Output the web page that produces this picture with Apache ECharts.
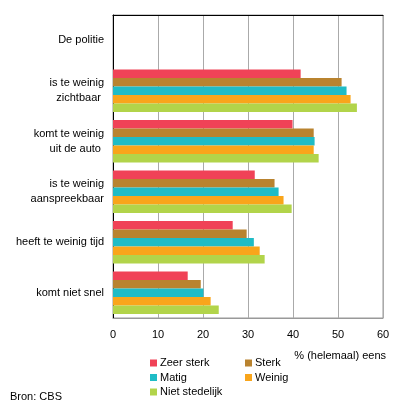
<!DOCTYPE html>
<html>
<head>
<meta charset="utf-8">
<script src="https://cdn.jsdelivr.net/npm/echarts@6/dist/echarts.min.js"></script>
<style>html,body{margin:0;padding:0;background:#fff}#c{width:396px;height:408px}</style>
</head>
<body>
<div id="c"></div>
<script>
const categories = ['De politie', 'is te weinig\nzichtbaar ', 'komt te weinig\nuit de auto ', 'is te weinig\naanspreekbaar', 'heeft te weinig tijd', 'komt niet snel'];
const seriesNames = ['Zeer sterk', 'Sterk', 'Matig', 'Weinig', 'Niet stedelijk'];
const zeerSterk = [null, 41.7, 39.9, 31.5, 26.6, 16.6];
const sterk = [null, 50.8, 44.6, 35.9, 29.7, 19.5];
const matig = [null, 51.9, 44.8, 36.8, 31.3, 20.1];
const weinig = [null, 52.8, 44.6, 37.9, 32.6, 21.7];
const nietStedelijk = [null, 54.2, 45.7, 39.7, 33.7, 23.5];
const xTicks = [0, 10, 20, 30, 40, 50, 60];
const axisTitle = '% (helemaal) eens';
const source = 'Bron: CBS';

const colors = ['#f04257', '#b9832f', '#1fbcc6', '#f9a51b', '#b2d44a'];
const values = [zeerSterk, sterk, matig, weinig, nietStedelijk];
const FONT = 'Arial, "Liberation Sans", sans-serif';

const chart = echarts.init(document.getElementById('c'), null, {renderer: 'canvas'});
chart.setOption({
  animation: false,
  textStyle: {fontFamily: FONT},
  grid: {left: 113, top: 15, width: 270, height: 303, show: true, borderColor: '#999', borderWidth: 1, backgroundColor: 'transparent'},
  title: [
    {text: axisTitle, right: 5, top: 345, textStyle: {fontSize: 11, fontWeight: 'normal', color: '#000', fontFamily: FONT}},
    {text: source, left: 5, top: 386, textStyle: {fontSize: 11, fontWeight: 'normal', color: '#000', fontFamily: FONT}}
  ],
  legend: [
    {data: [seriesNames[0], seriesNames[2], seriesNames[4]], orient: 'vertical', left: 145, top: 352, itemWidth: 7, itemHeight: 7, itemGap: 2.5, icon: 'rect',
     textStyle: {fontSize: 11, color: '#000', lineHeight: 12, padding: [0, 0, 0, -2], fontFamily: FONT}},
    {data: [seriesNames[1], seriesNames[3]], orient: 'vertical', left: 240, top: 352, itemWidth: 7, itemHeight: 7, itemGap: 2.5, icon: 'rect',
     textStyle: {fontSize: 11, color: '#000', lineHeight: 12, padding: [0, 0, 0, -2], fontFamily: FONT}}
  ],
  xAxis: [
    {type: 'value', min: xTicks[0], max: xTicks[xTicks.length - 1], interval: xTicks[1] - xTicks[0], position: 'bottom',
     axisLine: {show: true, lineStyle: {color: '#999', width: 1}}, axisTick: {show: false},
     axisLabel: {fontSize: 11, color: '#000', margin: 11, fontFamily: FONT},
     splitLine: {show: true, lineStyle: {color: '#aaa', width: 1}}},
    {type: 'value', min: xTicks[0], max: xTicks[xTicks.length - 1], position: 'top',
     axisLine: {show: true, lineStyle: {color: '#000', width: 1}}, axisTick: {show: false}, axisLabel: {show: false}, splitLine: {show: false}}
  ],
  yAxis: {type: 'category', data: categories, inverse: true,
    axisLine: {show: true, lineStyle: {color: '#000', width: 1}}, axisTick: {show: false},
    axisLabel: {fontSize: 11, color: '#000', margin: 9, lineHeight: 15, align: 'right', fontFamily: FONT}},
  series: seriesNames.map((n, i) => ({
    name: n, type: 'bar', data: values[i], xAxisIndex: 0,
    barGap: '0%', barCategoryGap: '16%',
    itemStyle: {color: colors[i]}
  }))
});
</script>
</body>
</html>
